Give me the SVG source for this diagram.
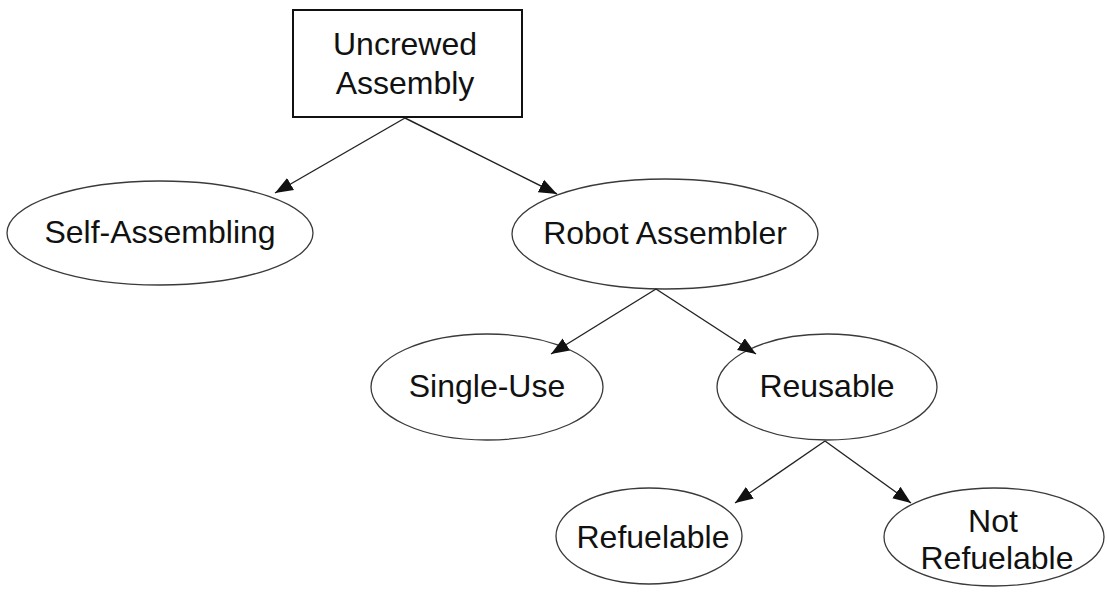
<svg xmlns="http://www.w3.org/2000/svg" width="1107" height="592" viewBox="0 0 1107 592">
<style>
.t{font-family:"Liberation Sans",Arial,sans-serif;font-size:32px;fill:#111;text-anchor:middle}
.e{fill:#fff;stroke:#3a3a3a;stroke-width:1.3}
.b{fill:#fff;stroke:#111;stroke-width:2}
.c{stroke:#222;stroke-width:1.4;fill:none;marker-end:url(#ah)}
</style>
<defs>
<marker id="ah" markerUnits="userSpaceOnUse" markerWidth="20" markerHeight="16" refX="18" refY="7" orient="auto" viewBox="0 0 20 14">
<path d="M0,0 L18,7 L0,14 Z" fill="#111"/>
</marker>
</defs>
<rect width="1107" height="592" fill="#fff"/>
<g id="n-uncrewed"><rect class="b" x="293" y="10" width="229" height="107"/><text class="t" x="405" y="55">Uncrewed</text><text class="t" x="405" y="94">Assembly</text></g>
<g id="n-self"><ellipse class="e" cx="160" cy="233" rx="153" ry="52"/><text class="t" x="160" y="243">Self-Assembling</text></g>
<g id="n-robot"><ellipse class="e" cx="665" cy="234" rx="153" ry="55"/><text class="t" x="665" y="244">Robot Assembler</text></g>
<g id="n-single"><ellipse class="e" cx="487" cy="387" rx="116" ry="53"/><text class="t" x="487" y="397">Single-Use</text></g>
<g id="n-reusable"><ellipse class="e" cx="827" cy="387" rx="110" ry="53"/><text class="t" x="827" y="397">Reusable</text></g>
<g id="n-refuelable"><ellipse class="e" cx="649" cy="536" rx="93" ry="48"/><text class="t" x="653" y="548">Refuelable</text></g>
<g id="n-notrefuelable"><ellipse class="e" cx="994" cy="537" rx="110" ry="49"/><text class="t" x="993" y="532">Not</text><text class="t" x="997" y="569">Refuelable</text></g>
<g id="connectors">
<line class="c" x1="405" y1="118" x2="275" y2="193"/>
<line class="c" x1="405" y1="118" x2="557" y2="194"/>
<line class="c" x1="656" y1="289" x2="551" y2="354"/>
<line class="c" x1="656" y1="289" x2="756" y2="354"/>
<line class="c" x1="825" y1="441" x2="735" y2="503"/>
<line class="c" x1="825" y1="441" x2="911" y2="503"/>
</g>
</svg>
